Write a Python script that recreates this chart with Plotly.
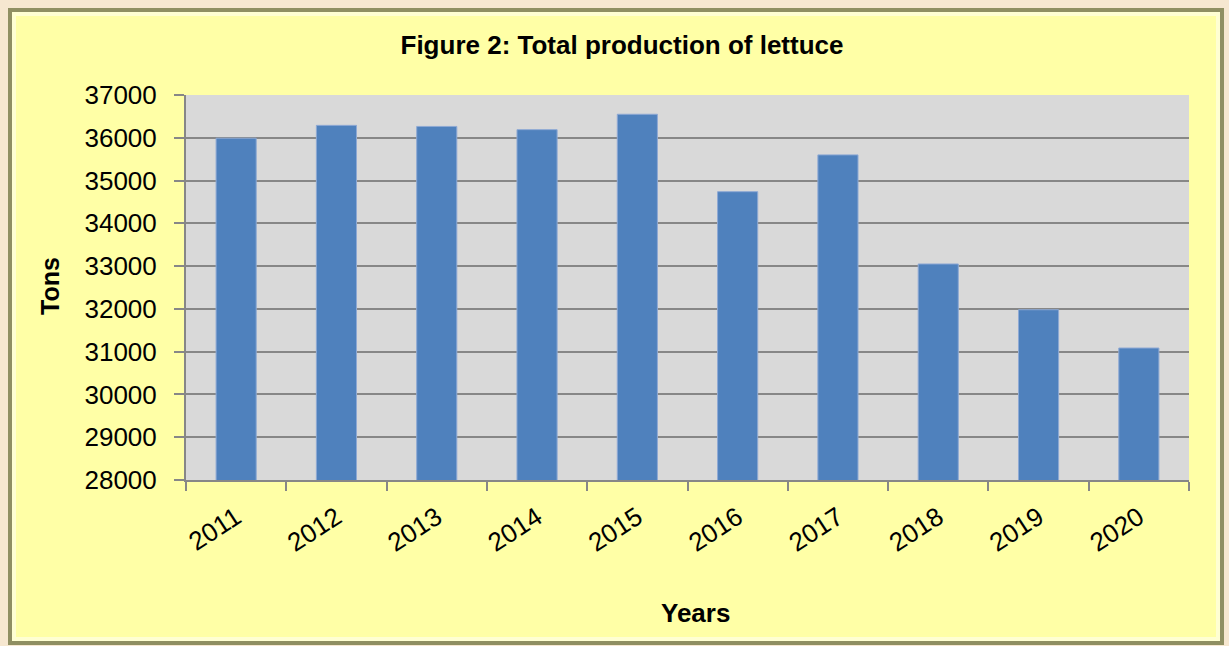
import plotly.graph_objects as go

years = ["2011", "2012", "2013", "2014", "2015", "2016", "2017", "2018", "2019", "2020"]
production = [35990, 36290, 36265, 36190, 36550, 34740, 35600, 33050, 31980, 31085]
y_ticks = [28000, 29000, 30000, 31000, 32000, 33000, 34000, 35000, 36000, 37000]

W, H = 1229, 646
L, R, T, B = 186, 40, 95, 166
pw, ph = W - L - R, H - T - B

def px_x(x):
    return (x - L) / pw

def px_y(y):
    return (H - B - y) / ph

fig = go.Figure()
fig.add_trace(go.Bar(
    x=years, y=production,
    marker=dict(color="#4F81BD", line=dict(color="#8EA9D4", width=1)),
    width=0.4,
))

shapes = [
    # beveled yellow frame
    dict(type="rect", xref="paper", yref="paper", layer="below",
         x0=px_x(10), x1=px_x(1222), y0=px_y(643), y1=px_y(10),
         fillcolor="#FFFFA6", line=dict(color="#8F8F62", width=4)),
    dict(type="rect", xref="paper", yref="paper", layer="below",
         x0=px_x(14), x1=px_x(1218), y0=px_y(639), y1=px_y(14),
         fillcolor="rgba(0,0,0,0)", line=dict(color="#FFFFD2", width=4)),
    # plot area
    dict(type="rect", xref="paper", yref="paper", layer="below",
         x0=0, x1=1, y0=0, y1=1, fillcolor="#D9D9D9", line=dict(width=0)),
]

fig.update_layout(
    width=W, height=H,
    margin=dict(l=L, r=R, t=T, b=B),
    paper_bgcolor="#F6E7D0",
    plot_bgcolor="rgba(0,0,0,0)",
    showlegend=False,
    shapes=shapes,
    font=dict(family="Liberation Sans, Arial, sans-serif", color="#000000"),
    title=dict(text="<b>Figure 2: Total production of lettuce</b>",
               x=622 / W, xanchor="center",
               y=1 - 45 / H, yanchor="middle", yref="container",
               font=dict(size=26, color="#000000")),
    xaxis=dict(
        type="category", tickson="boundaries", ticks="outside", ticklen=9,
        tickcolor="#878787", tickwidth=2,
        showline=True, linecolor="#878787", linewidth=2,
        tickangle=-33, tickfont=dict(size=26), ticklabelstandoff=10,
        showgrid=False,
    ),
    yaxis=dict(
        range=[28000, 37000], tickvals=y_ticks, ticktext=[str(v) for v in y_ticks],
        ticks="outside", ticklen=10, tickcolor="#878787", tickwidth=2,
        showline=True, linecolor="#878787", linewidth=2,
        showgrid=True, gridcolor="#878787", gridwidth=2,
        tickfont=dict(size=26), zeroline=False, ticklabelstandoff=12,
    ),
    annotations=[
        dict(text="<b>Tons</b>", xref="paper", yref="paper",
             x=px_x(50), y=px_y(286), showarrow=False, textangle=-90,
             font=dict(size=25), xanchor="center", yanchor="middle"),
        dict(text="<b>Years</b>", xref="paper", yref="paper",
             x=px_x(695), y=px_y(613), showarrow=False,
             font=dict(size=26), xanchor="center", yanchor="middle"),
    ],
)

fig.write_html("out.html")
